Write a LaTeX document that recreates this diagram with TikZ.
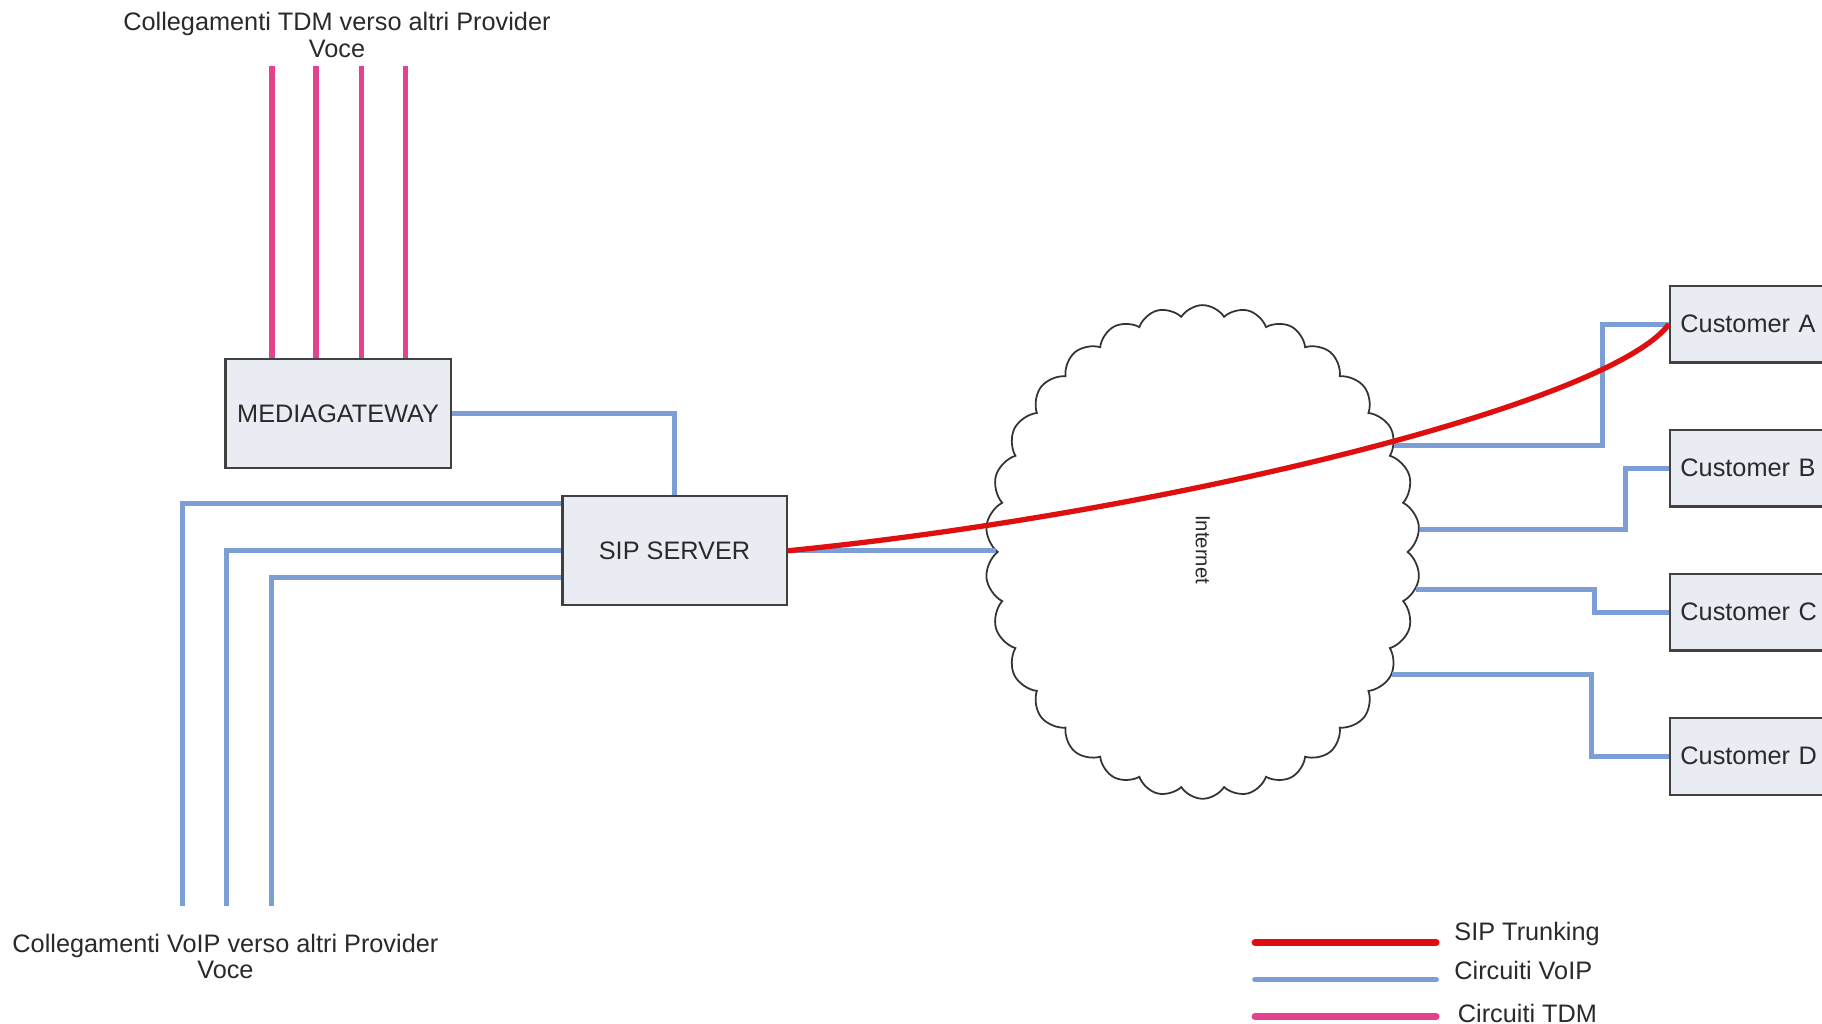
\documentclass[tikz,border=0pt]{standalone}
\usepackage{fontspec}
\setmainfont{Liberation Sans}
\usetikzlibrary{shapes.symbols,calc}
\definecolor{boxfill}{HTML}{E9EDF3}
\definecolor{voipblue}{HTML}{7C9ED4}
\definecolor{trunkred}{HTML}{E00F0F}
\definecolor{tdmpink}{HTML}{E4428F}
\definecolor{inkgray}{HTML}{2A2A2A}
\begin{document}
\begin{tikzpicture}[x=0.01162cm, y=-0.01162cm, node distance=1.441cm,
  txt/.style={text=inkgray, font=\fontsize{7.2}{7.6}\selectfont},
  main node/.style={txt, draw=black!75, fill=boxfill, line width=0.6pt, minimum height=1.092cm},
  cust node/.style={main node, minimum height=0.767cm, text width=1.53cm, inner xsep=3pt, align=left},
  voip/.style={draw=voipblue, line width=1.4pt},
  tdm/.style={draw=tdmpink, line width=1.6pt},
  trunk/.style={draw=trunkred, line width=1.5pt}]
\useasboundingbox[fill=white] (0,0) rectangle (1568,881);

\node[main node, minimum width=2.254cm] (mg)  at (291,356)   {MEDIAGATEWAY};
\node[main node, minimum width=2.243cm] (sip) at (580.5,474) {SIP SERVER};
\node[cloud, draw=black!80, line width=0.5pt, cloud puffs=30, cloud puff arc=115,
      minimum width=4.35cm, minimum height=4.94cm] (inet) at (1035,475) {};
\node[txt, font=\fontsize{5.8}{6}\selectfont, rotate=-90] (inetlbl) at (1035,473) {Internet};
\node[cust node]                (cA) at (1512,279) {Customer A};
\node[cust node, below of=cA]   (cB) {Customer B};
\node[cust node, below of=cB]   (cC) {Customer C};
\node[cust node, below of=cC]   (cD) {Customer D};

\node[txt, align=center] (tdmlbl)  at (290,30)  {Collegamenti TDM verso altri Provider\\Voce};
\node[txt, align=center] (voiplbl) at (194,823) {Collegamenti VoIP verso altri Provider\\Voce};

\coordinate (v1) at (157,780);
\coordinate (v2) at (195,780);
\coordinate (v3) at (234,780);

\foreach \x in {234,272,311,349}
  \draw[tdm] (\x,57) -- (\x,0 |- mg.north);

\draw[voip] (mg.east) -| (sip.north);
\draw[voip] ($(sip.north west)+(0,7)$) -| (v1);
\draw[voip] (sip.west) -| (v2);
\draw[voip] ($(sip.west)+(0,23)$) -| (v3);
\draw[voip] (sip.east) -- (sip.east -| inet.west);

\draw[voip] (inet.29)  -| ($(cA.west)+(-57,0)$) -- (cA.west);
\draw[voip] (inet.6)   -| ($(cB.west)+(-37,0)$) -- (cB.west);
\draw[voip] (inet.350) -| ($(cC.west)+(-64,0)$) -- (cC.west);
\draw[voip] (inet.327) -| ($(cD.west)+(-67,0)$) -- (cD.west);

\draw[trunk] (sip.east) .. controls (1000,442) and (1385,348) .. (cA.west);

\node[txt, anchor=west] (lgT) at (1241,804) {SIP Trunking};
\node[txt, anchor=west] (lgV) at (1241,835) {Circuiti VoIP};
\node[txt, anchor=west] (lgD) at (1244,872) {Circuiti TDM};
\coordinate (lgTa) at (1080,811);
\coordinate (lgVa) at (1080,843);
\coordinate (lgDa) at (1080,875);
\draw[trunk, line width=1.9pt, line cap=round] (lgTa) -- ++(156,0);
\draw[voip, line width=1.6pt, line cap=round]  (lgVa) -- ++(156,0);
\draw[tdm, line width=1.9pt, line cap=round]   (lgDa) -- ++(156,0);
\end{tikzpicture}
\end{document}
